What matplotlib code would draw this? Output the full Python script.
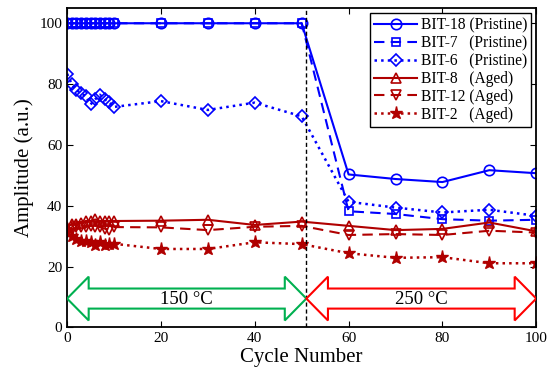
import matplotlib
matplotlib.use('Agg')
import matplotlib.pyplot as plt
from matplotlib.patches import Polygon
import numpy as np

# ciclos medidos
ciclos = [0, 1, 2, 3, 4, 5, 6, 7, 8, 9, 10, 20, 30, 40, 50, 60, 70, 80, 90, 100]

# amplitudes (u.a.)
bit18 = [100]*15 + [50.3, 48.8, 47.8, 51.7, 50.7]
bit7 = [100]*15 + [38.2, 37.3, 35.6, 35.1, 35.4]
bit6 = [83.4, 80, 78, 77, 76, 73.3, 75, 76.5, 75, 74, 72.5, 74.4, 71.5, 73.9, 69.4,
        41.3, 39.4, 37.8, 38.7, 36.7]
bit8 = [33, 34, 34, 34.5, 35, 35, 35.5, 35, 35, 35, 35, 35.1, 35.4, 33.7, 34.8,
        33.4, 32, 32.4, 34.5, 31.6]
bit12 = [31, 32, 33, 33, 33, 33.5, 33, 33, 32.5, 32, 33, 32.9, 32, 33.1, 33.4,
         30.4, 30.7, 30.4, 31.8, 31.2]
bit2 = [31.5, 30, 29, 28.5, 28.5, 28, 27, 28, 27, 27.5, 27.5, 25.8, 25.8, 28, 27.4,
        24.4, 22.9, 23.1, 21.1, 21.1]

troca = 51  # mudança de temperatura
faixas = [(0, troca, '#00B050', '150 °C'), (troca, 100, '#FF0000', '250 °C')]

plt.rcParams['font.family'] = ['Liberation Serif', 'DejaVu Serif']

azul = '#0000FF'
verm = '#B00000'

fig = plt.figure(figsize=(5.5, 3.83), dpi=100)
ax = fig.add_axes([0.122, 0.145, 0.853, 0.834])

ms = 7.5
ax.plot(ciclos, bit18, '-', color=azul, lw=1.5, marker='o', ms=ms, mfc='none', mew=1.2,
        label='BIT-18 (Pristine)')
ax.plot(ciclos, bit7, '--', color=azul, lw=1.5, marker='s', ms=6, mfc='none', mew=1.2,
        dashes=(5, 3), label='BIT-7   (Pristine)')
ax.plot(ciclos, bit6, ':', color=azul, lw=1.8, marker='D', ms=6.5, mfc='none', mew=1.2,
        label='BIT-6   (Pristine)')
ax.plot(ciclos, bit8, '-', color=verm, lw=1.5, marker='^', ms=ms, mfc='none', mew=1.2,
        label='BIT-8   (Aged)')
ax.plot(ciclos, bit12, '--', color=verm, lw=1.5, marker='v', ms=ms, mfc='none', mew=1.2,
        dashes=(5, 3), label='BIT-12 (Aged)')
ax.plot(ciclos, bit2, ':', color=verm, lw=1.8, marker='*', ms=9.5, mfc=verm, mew=1.0,
        label='BIT-2   (Aged)')

ax.axvline(troca, color='black', ls='--', lw=1.0, dashes=(3, 2))

# setas duplas das faixas de temperatura
yc, meia_haste, meia_cab, cab = 9.5, 3.3, 7.2, 4.6
for x0, x1, cor, txt in faixas:
    pts = [(x0, yc), (x0 + cab, yc + meia_cab), (x0 + cab, yc + meia_haste),
           (x1 - cab, yc + meia_haste), (x1 - cab, yc + meia_cab), (x1, yc),
           (x1 - cab, yc - meia_cab), (x1 - cab, yc - meia_haste),
           (x0 + cab, yc - meia_haste), (x0 + cab, yc - meia_cab)]
    ax.add_patch(Polygon(pts, closed=True, fc='white', ec=cor, lw=1.5, zorder=3))
    ax.text((x0 + x1) / 2, yc - 0.3, txt, ha='center', va='center', fontsize=13.5, zorder=4)

ax.set_xlim(0, 100)
ax.set_ylim(0, 105)
ax.set_xticks(range(0, 101, 20))
ax.set_yticks(range(0, 101, 20))
ax.tick_params(direction='in', top=True, right=True, labelsize=11, length=4)
for s in ax.spines.values():
    s.set_linewidth(1.3)
ax.set_xlabel('Cycle Number', fontsize=15, labelpad=2)
ax.set_ylabel('Amplitude (a.u.)', fontsize=15, labelpad=4)

leg = ax.legend(loc='upper right', fontsize=11.2, fancybox=False, edgecolor='black',
                framealpha=1, handlelength=2.8, borderpad=0.25, labelspacing=0.12,
                handletextpad=0.2, borderaxespad=0.35)
leg.get_frame().set_linewidth(1.0)

fig.savefig('out.png', dpi=100)
